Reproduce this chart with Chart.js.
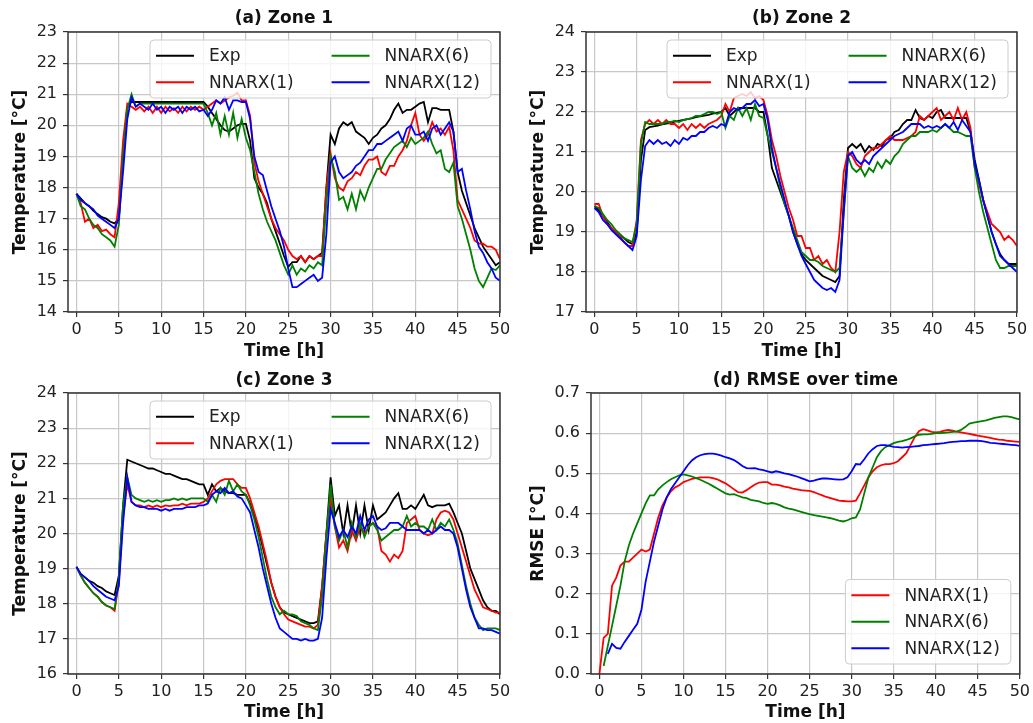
<!DOCTYPE html>
<html>
<head>
<meta charset="utf-8">
<script src="https://cdn.jsdelivr.net/npm/chart.js@4.4.1/dist/chart.umd.min.js"></script>
<style>
  body { margin: 0; background: #fff; }
  canvas { position: absolute; }
</style>
</head>
<body>
<canvas id="zone1Chart" width="516" height="362" style="left:0;top:0"></canvas>
<canvas id="zone2Chart" width="515" height="362" style="left:518px;top:0"></canvas>
<canvas id="zone3Chart" width="516" height="363" style="left:0;top:360px"></canvas>
<canvas id="rmseChart" width="515" height="363" style="left:518px;top:360px"></canvas>
<script>
// time axis (hours)
const hours = [
  0, 0.5, 1, 1.5, 2, 2.5, 3, 3.5, 4, 4.5,
  5, 5.5, 6, 6.5, 7, 7.5, 8, 8.5, 9, 9.5,
  10, 10.5, 11, 11.5, 12, 12.5, 13, 13.5, 14, 14.5,
  15, 15.5, 16, 16.5, 17, 17.5, 18, 18.5, 19, 19.5,
  20, 20.5, 21, 21.5, 22, 22.5, 23, 23.5, 24, 24.5,
  25, 25.5, 26, 26.5, 27, 27.5, 28, 28.5, 29, 29.5,
  30, 30.5, 31, 31.5, 32, 32.5, 33, 33.5, 34, 34.5,
  35, 35.5, 36, 36.5, 37, 37.5, 38, 38.5, 39, 39.5,
  40, 40.5, 41, 41.5, 42, 42.5, 43, 43.5, 44, 44.5,
  45, 45.5, 46, 46.5, 47, 47.5, 48, 48.5, 49, 49.5,
  50
];
const timeTicks = [0, 5, 10, 15, 20, 25, 30, 35, 40, 45, 50];
const zone1Ticks = [14, 15, 16, 17, 18, 19, 20, 21, 22, 23];
const zone2Ticks = [17, 18, 19, 20, 21, 22, 23, 24];
const zone3Ticks = [16, 17, 18, 19, 20, 21, 22, 23, 24];
const rmseTicks = [0, 0.1, 0.2, 0.3, 0.4, 0.5, 0.6, 0.7];

// (a) Zone 1
const zone1Exp = [
  17.8, 17.65, 17.5, 17.4, 17.25, 17.15, 17.05, 17.0, 16.9, 16.85,
  17.0, 19.0, 20.6, 20.75, 20.75, 20.75, 20.75, 20.75, 20.75, 20.75,
  20.75, 20.75, 20.75, 20.75, 20.75, 20.75, 20.75, 20.75, 20.75, 20.75,
  20.75, 20.6, 20.4, 20.2, 20.0, 19.85, 19.8, 19.9, 20.0, 20.05,
  20.05, 19.5, 18.3, 18.0, 17.8, 17.5, 17.0, 16.6, 16.2, 15.8,
  15.45, 15.6, 15.6, 15.8, 15.6, 15.8, 15.7, 15.8, 15.9, 18.0,
  19.7, 19.4, 19.9, 20.1, 20.0, 20.1, 19.8, 19.7, 19.6, 19.4,
  19.6, 19.7, 19.9, 20.0, 20.2, 20.5, 20.7, 20.4, 20.5, 20.5,
  20.6, 20.7, 20.75, 20.1, 20.55, 20.55, 20.5, 20.5, 20.5, 19.8,
  18.5, 17.9, 17.5, 17.1, 16.7, 16.4, 16.1, 15.9, 15.7, 15.5,
  15.6
];
const zone1N1 = [
  17.8, 17.5, 16.9, 17.0, 16.7, 16.8, 16.6, 16.65, 16.5, 16.4,
  17.5, 19.5, 20.7, 20.6, 20.5, 20.6, 20.45, 20.6, 20.4, 20.6,
  20.4, 20.6, 20.45, 20.55, 20.4, 20.6, 20.45, 20.6, 20.5, 20.6,
  20.5, 20.6, 20.7, 20.8, 20.7, 20.8, 20.9, 20.95, 21.05, 20.8,
  20.8, 20.3, 18.8, 18.2, 17.8, 17.4, 17.0, 16.7, 16.5, 16.3,
  16.0, 15.8, 15.7, 15.8, 15.6, 15.8, 15.7, 15.8, 15.8, 18.0,
  19.1, 18.3, 18.0, 17.9, 18.2, 18.3, 18.5, 18.4, 18.7, 18.9,
  18.9, 19.0, 18.5, 18.4, 18.7, 18.7, 19.0, 19.2, 19.5, 20.0,
  20.4, 19.7, 19.5, 19.7, 20.1, 19.8, 19.9, 19.7, 19.95, 19.2,
  17.6, 17.3, 17.0, 16.7, 16.3, 16.2, 16.2, 16.1, 16.1, 16.0,
  15.7
];
const zone1N6 = [
  17.8, 17.4, 17.3, 17.0, 16.8, 16.7, 16.5, 16.4, 16.3, 16.1,
  16.8, 19.0, 20.5, 21.0, 20.6, 20.7, 20.7, 20.7, 20.7, 20.7,
  20.7, 20.7, 20.7, 20.7, 20.7, 20.7, 20.7, 20.7, 20.7, 20.7,
  20.7, 20.4, 20.0, 20.4, 19.7, 20.3, 19.7, 20.4, 19.6, 20.2,
  19.6, 19.2, 18.5, 17.8, 17.3, 16.9, 16.6, 16.3, 15.9, 15.5,
  15.2, 15.5, 15.2, 15.4, 15.3, 15.5, 15.4, 15.6, 15.5, 17.5,
  19.0, 18.5, 17.6, 17.7, 17.3, 17.8, 17.3, 17.9, 17.6, 18.0,
  18.3, 18.6, 18.6, 18.9, 19.1, 19.3, 19.4, 19.5, 19.3, 19.6,
  19.4, 19.5, 19.6, 19.8, 19.4, 19.1, 19.2, 18.6, 18.5, 18.8,
  17.4, 17.0, 16.5, 16.0, 15.4, 15.0, 14.8, 15.1, 15.4, 15.35,
  15.5
];
const zone1N12 = [
  17.8, 17.6, 17.5, 17.4, 17.3, 17.1, 17.0, 16.9, 16.8, 16.7,
  17.0, 18.5, 20.2, 20.9, 20.6, 20.7, 20.6, 20.5, 20.7, 20.5,
  20.6, 20.4, 20.6, 20.5, 20.6, 20.4, 20.6, 20.5, 20.6, 20.45,
  20.5, 20.3, 20.5, 20.8, 20.7, 20.9, 20.5, 20.8, 20.8, 20.75,
  20.75, 20.2, 19.0, 18.5, 18.4, 17.9, 17.4, 17.0, 16.6, 16.1,
  15.4, 14.8, 14.8, 14.9, 15.0, 15.1, 15.2, 15.0, 15.1, 16.5,
  18.8, 19.0, 18.5, 18.3, 18.4, 18.5, 18.7, 18.8, 19.0, 19.2,
  19.2, 19.4, 19.4, 19.5, 19.6, 19.7, 19.8, 19.5, 19.9, 20.0,
  19.7, 19.7, 19.8, 19.5, 19.9, 20.0, 19.7, 19.9, 20.1, 19.8,
  18.5, 18.6, 17.9, 17.3, 16.6, 16.1, 15.9, 15.6, 15.4, 15.1,
  15.0
];

// (b) Zone 2
const zone2Exp = [
  19.65, 19.55, 19.4, 19.25, 19.1, 19.0, 18.9, 18.85, 18.75, 18.7,
  19.0, 20.8, 21.55, 21.62, 21.64, 21.66, 21.69, 21.71, 21.73, 21.76,
  21.78, 21.8, 21.82, 21.84, 21.87, 21.89, 21.91, 21.93, 21.96, 21.98,
  22.0, 22.1, 21.9, 22.0, 22.1, 22.1, 22.1, 22.1, 22.1, 22.0,
  22.0, 21.4, 20.6, 20.3, 20.0, 19.7, 19.4, 19.0, 18.7, 18.45,
  18.3, 18.2, 18.1, 18.0, 17.9, 17.85, 17.8, 17.75, 17.9, 19.8,
  21.1, 21.2, 21.1, 21.2, 21.0, 21.15, 21.05, 21.2, 21.15, 21.3,
  21.35, 21.5, 21.55, 21.7, 21.8, 21.8, 22.05, 21.85, 21.8, 21.9,
  21.85, 22.0, 22.05, 21.85, 21.85, 21.85, 21.85, 21.85, 21.85, 21.5,
  20.8, 20.3, 19.8, 19.4, 19.0, 18.7, 18.45, 18.3, 18.2, 18.2,
  18.2
];
const zone2N1 = [
  19.7, 19.7, 19.4, 19.2, 19.1, 19.0, 18.9, 18.75, 18.65, 18.65,
  19.3, 21.3, 21.7, 21.8, 21.7, 21.8, 21.7, 21.8, 21.7, 21.7,
  21.6, 21.7, 21.55, 21.7, 21.6, 21.7, 21.6, 21.7, 21.75, 21.8,
  21.9, 22.2, 22.0, 22.35, 22.4, 22.45, 22.4, 22.5, 22.35, 22.4,
  22.3, 21.9, 21.3, 20.9, 20.4, 20.0, 19.6, 19.3, 18.9, 18.9,
  18.6, 18.6, 18.3, 18.4, 18.2, 18.3, 18.1, 18.0, 19.0, 20.5,
  21.0, 20.9, 20.7, 20.6, 20.9, 21.0, 21.1, 21.1, 21.2, 21.3,
  21.4, 21.3, 21.3, 21.3, 21.35, 21.4, 21.5, 21.9, 21.8, 21.9,
  22.0, 22.1, 21.8, 21.9, 22.0, 21.8, 22.1, 21.8, 22.0, 21.6,
  20.6, 20.2, 19.8, 19.5, 19.2, 19.1, 19.0, 18.8, 18.9, 18.8,
  18.65
];
const zone2N6 = [
  19.65, 19.6, 19.45, 19.3, 19.2, 19.05, 18.95, 18.85, 18.8, 18.75,
  19.2, 21.2, 21.75, 21.7, 21.7, 21.7, 21.7, 21.75, 21.75, 21.78,
  21.75, 21.8, 21.82, 21.85, 21.9, 21.9, 21.95, 22.0, 22.0, 21.95,
  22.0, 21.6, 21.9, 21.8, 22.1, 21.9, 22.1, 21.8, 22.2, 21.9,
  21.85, 21.4, 21.0, 20.6, 20.1, 19.7, 19.4, 19.1, 18.8, 18.5,
  18.4, 18.3, 18.3, 18.25, 18.15, 18.1, 18.05, 18.0, 18.1, 19.5,
  20.9, 20.6, 20.5, 20.6, 20.4, 20.6, 20.5, 20.75, 20.6, 20.8,
  20.7, 20.9, 21.0, 21.2, 21.3, 21.4, 21.4, 21.5, 21.5, 21.5,
  21.55, 21.5, 21.6, 21.7, 21.6, 21.5, 21.5, 21.45, 21.4, 21.4,
  20.6, 20.0, 19.5, 19.1, 18.7, 18.3, 18.1, 18.1, 18.15, 18.15,
  18.15
];
const zone2N12 = [
  19.6, 19.5, 19.3, 19.2, 19.05, 18.95, 18.85, 18.75, 18.65, 18.55,
  18.9, 20.3, 21.15, 21.3, 21.2, 21.3, 21.2, 21.25, 21.15, 21.3,
  21.2, 21.35, 21.3, 21.4, 21.4, 21.5, 21.5, 21.6, 21.65, 21.6,
  21.7, 21.65, 22.0, 22.1, 22.05, 22.1, 22.2, 22.2, 22.3, 22.15,
  22.2, 21.8, 21.1, 20.6, 20.2, 19.8, 19.4, 19.0, 18.7, 18.4,
  18.2, 18.0, 17.8, 17.7, 17.6, 17.55, 17.6, 17.5, 17.8, 19.5,
  20.9, 21.0, 20.8, 20.7, 20.8, 20.7, 20.9, 21.0, 21.1, 21.2,
  21.3, 21.4, 21.45, 21.5, 21.6, 21.7, 21.7, 21.7, 21.6, 21.65,
  21.6, 21.65, 21.6, 21.7, 21.6, 21.75, 21.55, 21.8, 21.65, 21.5,
  20.7, 20.3, 19.8, 19.4, 19.0, 18.7, 18.4, 18.3, 18.2, 18.1,
  18.0
];

// (c) Zone 3
const zone3Exp = [
  19.05, 18.85, 18.75, 18.65, 18.6, 18.5, 18.45, 18.35, 18.3, 18.25,
  18.8, 20.8, 22.1, 22.05, 22.0, 21.95, 21.9, 21.85, 21.85, 21.8,
  21.75, 21.7, 21.7, 21.65, 21.6, 21.55, 21.55, 21.5, 21.45, 21.4,
  21.4, 21.1, 21.4, 21.2, 21.3, 21.2, 21.15, 21.15, 21.1, 21.1,
  21.1, 20.85, 20.5, 20.1, 19.6, 19.1, 18.6, 18.2, 17.9, 17.75,
  17.7, 17.65, 17.6, 17.55, 17.5, 17.45, 17.45, 17.5, 18.5, 20.0,
  21.6, 20.5, 20.8, 20.0, 20.8, 20.0, 20.8, 20.0, 20.8, 20.1,
  20.8, 20.4, 20.5, 20.6, 20.8, 21.0, 21.15, 20.7, 20.7, 20.8,
  20.7, 20.9, 21.1, 20.8, 20.75, 20.8, 20.8, 20.8, 20.85, 20.6,
  20.3, 20.0, 19.5, 19.0, 18.7, 18.4, 18.1, 17.9, 17.8, 17.8,
  17.7
];
const zone3N1 = [
  19.05, 18.8, 18.6, 18.45, 18.3, 18.2, 18.05, 17.95, 17.9, 17.8,
  18.6, 20.5, 21.4, 20.9, 20.8, 20.8, 20.75, 20.8, 20.75, 20.8,
  20.75, 20.8, 20.78, 20.8, 20.8, 20.85, 20.8, 20.85, 20.85, 20.85,
  20.9, 21.0, 21.2, 21.4, 21.5, 21.55, 21.55, 21.55, 21.4, 21.3,
  21.3, 21.0, 20.6, 20.2, 19.7, 19.2, 18.6, 18.2, 17.9, 17.7,
  17.55, 17.5, 17.45, 17.4, 17.35, 17.35, 17.3, 17.4, 18.5, 20.0,
  21.0, 20.2, 19.6, 19.8, 19.5, 20.1, 19.8, 20.2, 20.0, 20.2,
  20.3, 20.2, 19.5, 19.4, 19.2, 19.4, 19.3, 19.5, 20.3, 20.4,
  20.5, 20.1, 20.0, 19.95, 20.0, 20.4, 20.6, 20.65, 20.6, 20.4,
  20.0, 19.6, 19.2, 18.8, 18.4, 18.15, 17.9, 17.85, 17.8, 17.75,
  17.75
];
const zone3N6 = [
  19.05, 18.8, 18.6, 18.45, 18.3, 18.2, 18.05, 17.95, 17.9, 17.85,
  18.7, 20.8, 21.6, 21.1, 21.0, 20.95, 20.9, 20.95, 20.9, 20.95,
  20.9, 20.95, 20.95, 21.0, 20.95, 21.0, 20.95, 21.0, 21.0, 21.0,
  21.0, 20.9, 21.1, 20.9, 21.3, 21.1, 21.5, 21.2, 21.4, 21.2,
  21.1, 20.8, 20.4, 19.9, 19.3, 18.7, 18.2, 17.9, 17.7, 17.8,
  17.7, 17.7, 17.65, 17.5, 17.45, 17.4, 17.3, 17.25, 18.2, 19.9,
  21.4, 20.2, 19.8, 20.1, 19.6, 20.3, 19.9, 20.3, 19.9, 20.2,
  20.3, 20.1, 19.8, 19.9, 20.0, 20.1, 20.1, 20.2, 20.5, 20.2,
  20.3, 20.2, 20.2, 20.1, 20.4, 20.1, 20.3, 20.2, 20.4, 20.1,
  19.7, 19.1, 18.5, 18.0, 17.6, 17.4, 17.25, 17.3, 17.3, 17.3,
  17.25
];
const zone3N12 = [
  19.05, 18.85, 18.75, 18.65, 18.5, 18.4, 18.3, 18.2, 18.15, 18.1,
  18.5, 20.3, 21.6, 20.9, 20.8, 20.75, 20.75, 20.7, 20.7, 20.7,
  20.65, 20.7, 20.65, 20.7, 20.7, 20.7, 20.75, 20.75, 20.75, 20.8,
  20.8, 20.85, 21.1, 21.2, 21.15, 21.3, 21.15, 21.2, 21.05, 21.0,
  20.8, 20.6, 20.1, 19.6, 19.0, 18.5, 18.0, 17.6, 17.3, 17.2,
  17.1, 17.0, 17.0, 16.95, 17.0, 16.95, 16.95, 17.0, 17.6, 19.3,
  20.7, 20.3, 19.9, 20.1, 19.9, 20.2, 20.0, 20.5, 20.1, 20.4,
  20.5, 20.2, 20.1, 20.15, 20.3, 20.3, 20.3, 20.2, 20.1, 20.1,
  20.1, 20.1, 20.0, 20.1, 20.0, 20.1, 20.2, 20.1, 20.1, 20.0,
  19.6, 19.0, 18.4, 17.9, 17.6, 17.3, 17.3, 17.25, 17.25, 17.2,
  17.15
];

// (d) RMSE over time
const rmseN1 = [
  0.0, 0.09, 0.1, 0.22, 0.24, 0.27, 0.28, 0.28, 0.29, 0.3,
  0.31, 0.305, 0.31, 0.35, 0.39, 0.42, 0.44, 0.455, 0.465, 0.47,
  0.478, 0.482, 0.486, 0.488, 0.49, 0.49, 0.49, 0.488, 0.485, 0.48,
  0.475, 0.468, 0.46, 0.453, 0.452, 0.458, 0.465, 0.472, 0.477, 0.478,
  0.478, 0.472, 0.472, 0.47, 0.467, 0.465, 0.462, 0.46, 0.458, 0.457,
  0.456, 0.453, 0.449, 0.445, 0.441, 0.438, 0.435, 0.432, 0.431, 0.43,
  0.43, 0.432, 0.45, 0.47, 0.49, 0.505, 0.515, 0.52, 0.523, 0.523,
  0.525, 0.53, 0.54, 0.55, 0.57, 0.59, 0.605, 0.61, 0.607, 0.603,
  0.602, 0.603, 0.606, 0.608, 0.606, 0.604, 0.602, 0.6, 0.598, 0.596,
  0.594, 0.592, 0.59, 0.588, 0.586, 0.584, 0.583, 0.581, 0.58, 0.579,
  0.578
];
const rmseN6 = [
  null, 0.02, 0.07, 0.12, 0.17, 0.22, 0.28, 0.32, 0.35, 0.375,
  0.4, 0.425, 0.445, 0.445, 0.46, 0.47, 0.478, 0.485, 0.49, 0.495,
  0.497, 0.495, 0.492, 0.488, 0.484, 0.479, 0.474, 0.468, 0.462, 0.456,
  0.45, 0.447, 0.448, 0.444, 0.44, 0.438, 0.434, 0.432, 0.43, 0.426,
  0.424, 0.426, 0.424, 0.42, 0.415, 0.412, 0.41, 0.407, 0.404, 0.401,
  0.398, 0.396, 0.394, 0.392, 0.39, 0.388, 0.385, 0.382, 0.38, 0.383,
  0.388, 0.39, 0.41, 0.45, 0.49, 0.515, 0.54, 0.555, 0.565, 0.57,
  0.575, 0.578, 0.58, 0.583, 0.587, 0.592, 0.596, 0.597, 0.597, 0.598,
  0.6, 0.6, 0.601, 0.602, 0.603, 0.604, 0.608, 0.615, 0.624, 0.626,
  0.628, 0.63, 0.632, 0.635, 0.638, 0.64, 0.642, 0.642, 0.64, 0.637,
  0.634
];
const rmseN12 = [
  null, null, 0.05, 0.075, 0.065, 0.063, 0.08, 0.095, 0.11, 0.125,
  0.16, 0.23, 0.28, 0.33, 0.37, 0.41, 0.44, 0.46, 0.475, 0.49,
  0.505, 0.52, 0.532, 0.54, 0.545, 0.548, 0.549, 0.549, 0.547, 0.544,
  0.54, 0.537, 0.533, 0.526, 0.518, 0.513, 0.512, 0.513, 0.51, 0.508,
  0.505, 0.502, 0.505, 0.503, 0.5, 0.498, 0.495, 0.492, 0.488, 0.484,
  0.48, 0.482, 0.485, 0.487, 0.487, 0.486, 0.485, 0.484, 0.485, 0.49,
  0.505, 0.523, 0.522, 0.535, 0.55, 0.56, 0.568, 0.57, 0.57, 0.568,
  0.566, 0.565, 0.564, 0.565, 0.566, 0.567, 0.568, 0.57, 0.571, 0.572,
  0.573, 0.574, 0.575, 0.577, 0.578, 0.579, 0.58, 0.58, 0.581, 0.581,
  0.581, 0.58, 0.578, 0.576, 0.575, 0.574, 0.573, 0.572, 0.571, 0.57,
  0.568
];

const FONT = "'DejaVu Sans', sans-serif";
const colExp = '#000000';
const colN1 = '#ff0000';
const colN6 = '#008000';
const colN12 = '#0000ff';

function series(label, color, values, order) {
  return {
    label: label,
    borderColor: color,
    backgroundColor: color,
    data: values.map((v, i) => ({ x: hours[i], y: v })),
    borderWidth: 1.8,
    pointRadius: 0,
    tension: 0,
    fill: false,
    order: order
  };
}

// frame round the axes + matplotlib-like legend box inside the plot
const boxLegend = {
  id: 'boxLegend',
  afterDraw(chart, args, opts) {
    const ctx = chart.ctx;
    const a = chart.chartArea;
    ctx.save();
    ctx.strokeStyle = '#333';
    ctx.lineWidth = 1.5;
    ctx.strokeRect(a.left, a.top, a.right - a.left, a.bottom - a.top);

    const items = chart.data.datasets.map(d => ({ label: d.label, color: d.borderColor }));
    ctx.font = '17px ' + FONT;
    const ncol = opts.ncol;
    const nrow = Math.ceil(items.length / ncol);
    const rowH = 26.5;
    const colW = [];
    for (let c = 0; c < ncol; c++) {
      const col = items.slice(c * nrow, (c + 1) * nrow);
      colW.push(38 + 15 + Math.max(...col.map(it => ctx.measureText(it.label).width)));
    }
    const w = 6 + colW.reduce((s, v) => s + v, 0) + (ncol - 1) * 38 + 11;
    const h = nrow * rowH + 5;
    const x0 = a.right - 9 - w;
    const y0 = opts.corner === 'lower right' ? a.bottom - 10 - h : a.top + 8;

    ctx.beginPath();
    if (ctx.roundRect) ctx.roundRect(x0, y0, w, h, 4); else ctx.rect(x0, y0, w, h);
    ctx.fillStyle = 'rgba(255,255,255,0.8)';
    ctx.fill();
    ctx.strokeStyle = '#cccccc';
    ctx.lineWidth = 1;
    ctx.stroke();

    ctx.textBaseline = 'middle';
    ctx.textAlign = 'left';
    let cx = x0 + 6;
    for (let c = 0; c < ncol; c++) {
      const col = items.slice(c * nrow, (c + 1) * nrow);
      col.forEach((it, r) => {
        const y = y0 + 2.5 + r * rowH + rowH / 2;
        ctx.strokeStyle = it.color;
        ctx.lineWidth = 2;
        ctx.beginPath();
        ctx.moveTo(cx, y);
        ctx.lineTo(cx + 38, y);
        ctx.stroke();
        ctx.fillStyle = '#222';
        ctx.fillText(it.label, cx + 53, y + 1);
      });
      cx += colW[c] + 38;
    }
    ctx.restore();
  }
};

function makeOptions(cfg) {
  return {
    responsive: false,
    animation: false,
    layout: { padding: { left: 0, right: cfg.padRight, top: 0, bottom: 0 } },
    plugins: {
      legend: { display: false },
      tooltip: { enabled: false },
      title: {
        display: true,
        text: cfg.title,
        fullSize: false,
        color: '#111',
        font: { family: FONT, size: 17, weight: 'bold' },
        padding: cfg.titlePad
      },
      boxLegend: { ncol: cfg.ncol, corner: cfg.corner }
    },
    scales: {
      x: {
        type: 'linear',
        min: -1,
        max: 50,
        afterBuildTicks: s => { s.ticks = timeTicks.map(v => ({ value: v })); },
        afterFit: s => { s.height = cfg.xHeight; },
        grid: { color: '#c8c8c8', lineWidth: 1.2, tickColor: '#333', tickLength: 5, tickWidth: 1.2 },
        border: { display: false },
        ticks: {
          color: '#222',
          padding: 3,
          maxRotation: 0,
          font: { family: FONT, size: 16 }
        },
        title: {
          display: true,
          text: 'Time [h]',
          color: '#111',
          font: { family: FONT, size: 17, weight: 'bold' },
          padding: { top: 0, bottom: 0 }
        }
      },
      y: {
        min: cfg.yTicks[0],
        max: cfg.yTicks[cfg.yTicks.length - 1],
        afterBuildTicks: s => { s.ticks = cfg.yTicks.map(v => ({ value: v })); },
        afterFit: s => { s.width = cfg.yWidth; },
        grid: { color: '#c8c8c8', lineWidth: 1.2, tickColor: '#333', tickLength: 5, tickWidth: 1.2 },
        border: { display: false },
        ticks: {
          color: '#222',
          padding: 6,
          font: { family: FONT, size: 16 },
          callback: v => cfg.decimals ? v.toFixed(cfg.decimals) : String(v)
        },
        title: {
          display: true,
          text: cfg.yTitle,
          color: '#111',
          font: { family: FONT, size: 17, weight: 'bold' },
          padding: { top: 10, bottom: 0 }
        }
      }
    }
  };
}

function zoneDatasets(exp, n1, n6, n12) {
  return [
    series('Exp', colExp, exp, 4),
    series('NNARX(1)', colN1, n1, 3),
    series('NNARX(6)', colN6, n6, 2),
    series('NNARX(12)', colN12, n12, 1)
  ];
}

new Chart(document.getElementById('zone1Chart'), {
  type: 'line',
  data: { datasets: zoneDatasets(zone1Exp, zone1N1, zone1N6, zone1N12) },
  options: makeOptions({
    title: '(a) Zone 1', yTitle: 'Temperature [°C]', yTicks: zone1Ticks,
    padRight: 16, yWidth: 68, xHeight: 50, titlePad: { top: 8, bottom: 3.6 },
    ncol: 2, corner: 'upper right'
  }),
  plugins: [boxLegend]
});

new Chart(document.getElementById('zone2Chart'), {
  type: 'line',
  data: { datasets: zoneDatasets(zone2Exp, zone2N1, zone2N6, zone2N12) },
  options: makeOptions({
    title: '(b) Zone 2', yTitle: 'Temperature [°C]', yTicks: zone2Ticks,
    padRight: 16, yWidth: 68, xHeight: 50, titlePad: { top: 8, bottom: 3.6 },
    ncol: 2, corner: 'upper right'
  }),
  plugins: [boxLegend]
});

new Chart(document.getElementById('zone3Chart'), {
  type: 'line',
  data: { datasets: zoneDatasets(zone3Exp, zone3N1, zone3N6, zone3N12) },
  options: makeOptions({
    title: '(c) Zone 3', yTitle: 'Temperature [°C]', yTicks: zone3Ticks,
    padRight: 16, yWidth: 68, xHeight: 49, titlePad: { top: 10, bottom: 2.6 },
    ncol: 2, corner: 'upper right'
  }),
  plugins: [boxLegend]
});

new Chart(document.getElementById('rmseChart'), {
  type: 'line',
  data: {
    datasets: [
      series('NNARX(1)', colN1, rmseN1, 3),
      series('NNARX(6)', colN6, rmseN6, 2),
      series('NNARX(12)', colN12, rmseN12, 1)
    ]
  },
  options: makeOptions({
    title: '(d) RMSE over time', yTitle: 'RMSE [°C]', yTicks: rmseTicks, decimals: 1,
    padRight: 11, yWidth: 73, xHeight: 49, titlePad: { top: 10, bottom: 2.6 },
    ncol: 1, corner: 'lower right'
  }),
  plugins: [boxLegend]
});
</script>
</body>
</html>
